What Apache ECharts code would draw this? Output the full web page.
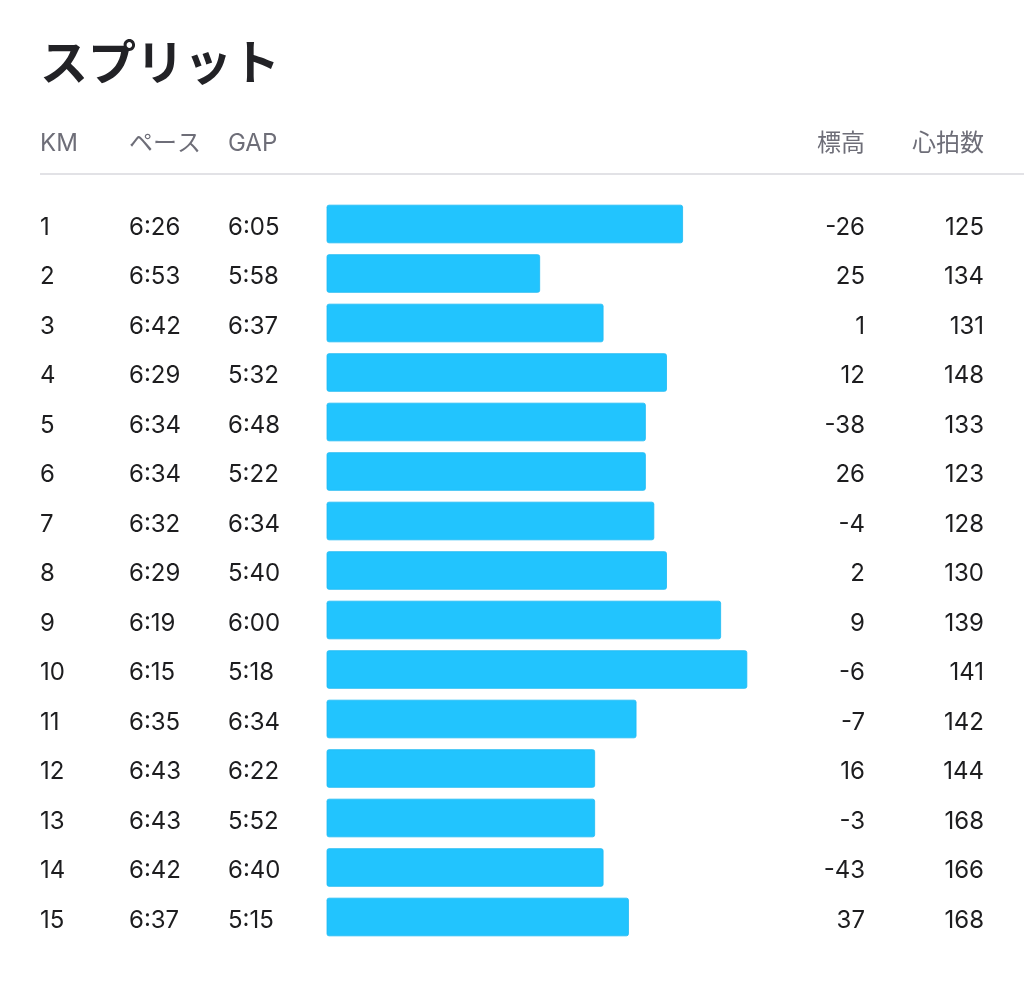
<!DOCTYPE html>
<html><head><meta charset="utf-8">
<script src="https://cdn.jsdelivr.net/npm/echarts@6/dist/echarts.min.js"></script>
<style>html,body{margin:0;padding:0;background:#fff}#c{width:1024px;height:990px}</style>
</head><body><div id="c"></div>
<script>
const km = ['1','2','3','4','5','6','7','8','9','10','11','12','13','14','15'];
const pace = ['6:26','6:53','6:42','6:29','6:34','6:34','6:32','6:29','6:19','6:15','6:35','6:43','6:43','6:42','6:37'];
const gap = ['6:05','5:58','6:37','5:32','6:48','5:22','6:34','5:40','6:00','5:18','6:34','6:22','5:52','6:40','5:15'];
const elevation = ['-26','25','1','12','-38','26','-4','2','9','-6','-7','16','-3','-43','37'];
const heartRate = ['125','134','131','148','133','123','128','130','139','141','142','144','168','166','168'];
// bar length = speed (m/s)
const speed = [2.591,2.422,2.497,2.572,2.547,2.547,2.557,2.572,2.636,2.667,2.536,2.487,2.487,2.497,2.527];
const titleText = 'スプリット';
const headersLeft = ['KM','ペース','GAP'];
const headersRight = ['標高','心拍数'];

const FONT = "Inter, 'Noto Sans CJK JP', sans-serif";
const chart = echarts.init(document.getElementById('c'), null, {renderer:'canvas'});

function col(data, position, align, margin) {
  return {
    type:'category', inverse:true, data, position,
    axisLine:{show:false}, axisTick:{show:false}, splitLine:{show:false},
    axisLabel:{
      align, margin, verticalAlign:'middle',
      formatter: v => '{n|' + v + '}',
      rich:{n:{fontSize:24, color:'#1d1d1f', fontFamily:FONT, padding:[7,0,0,0]}}
    }
  };
}

const hdr = (text, x, align) => ({
  type:'text', x, y:144,
  style:{text, fontSize:24, fontFamily:FONT, fill:'#6e6e78', align, verticalAlign:'middle'}
});

chart.setOption({
  animation:false,
  backgroundColor:'#fff',
  grid:{left:327, right:40, top:199.25, bottom:48.25, containLabel:false},
  xAxis:{type:'value', show:false, min:2.17, max:2.947},
  yAxis:[
    col(km,'left','left',287),
    col(pace,'left','left',198),
    col(gap,'left','left',99),
    col(elevation,'right','right',-119),
    col(heartRate,'right','right',0)
  ],
  series:[{
    type:'bar', yAxisIndex:0, data:speed, barWidth:38.5,
    itemStyle:{color:'#22c4fe', borderRadius:2, borderColor:'#1fbaf2', borderWidth:0.8},
    silent:true
  }],
  graphic:[
    {type:'text', x:40, y:62, style:{text:titleText, fontSize:48, fontWeight:'bold', fontFamily:"'Noto Sans CJK JP', sans-serif", fill:'#222226', align:'left', verticalAlign:'middle'}},
    hdr(headersLeft[0], 40, 'left'),
    hdr(headersLeft[1], 129, 'left'),
    hdr(headersLeft[2], 228, 'left'),
    hdr(headersRight[0], 865, 'right'),
    hdr(headersRight[1], 984, 'right'),
    {type:'line', shape:{x1:40, y1:174, x2:1024, y2:174}, style:{stroke:'#d9d9de', lineWidth:1.5}}
  ]
});
</script></body></html>
